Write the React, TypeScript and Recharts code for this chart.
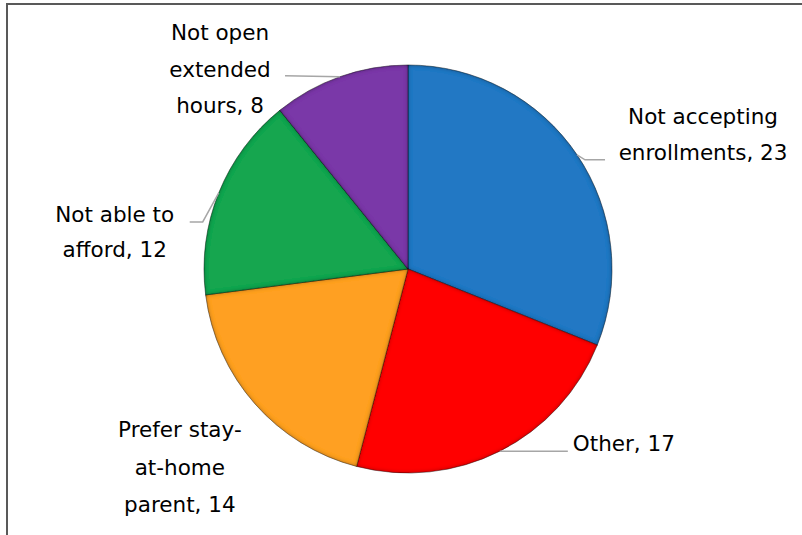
import React from "react";
import { PieChart, Pie, Cell } from "recharts";

const categories = [
  "Not accepting enrollments",
  "Other",
  "Prefer stay-at-home parent",
  "Not able to afford",
  "Not open extended hours",
];
const values = [23, 17, 14, 12, 8];
const labelLines = [
  ["Not accepting", "enrollments, 23"],
  ["Other, 17"],
  ["Prefer stay-", "at-home", "parent, 14"],
  ["Not able to", "afford, 12"],
  ["Not open", "extended", "hours, 8"],
];
const colors = ["#2178C4", "#FF0000", "#FFA024", "#14A650", "#7A38A8"];

const data = categories.map((name, i) => ({ name, value: values[i] }));

// label layout relative to slice edge point (style only)
const labelLayout = [
  { leader: [[8, 5], [28, 5]], dx: 126, anchor: "middle", dys: [-38, -2] },
  { leader: [[68, 0]], dx: 73, anchor: "start", dys: [-8] },
  { leader: [], dx: -75, anchor: "middle", dys: [26, 64, 101] },
  { leader: [[-16, 29], [-29, 29]], dx: -104, anchor: "middle", dys: [22, 57] },
  { leader: [[-55, -1]], dx: -120, anchor: "middle", dys: [-44, -7, 29] },
];

const RAD = Math.PI / 180;
const FONT = "'DejaVu Sans', sans-serif";

const renderLabel = (props: any) => {
  const { cx, cy, midAngle, outerRadius, index } = props;
  const ex = cx + outerRadius * Math.cos(-midAngle * RAD);
  const ey = cy + outerRadius * Math.sin(-midAngle * RAD);
  const L = labelLayout[index];
  const pts = [[ex, ey], ...L.leader.map(([x, y]) => [ex + x, ey + y])];
  const d = pts.length > 1 ? "M" + pts.map((p) => p.join(",")).join("L") : "";
  return (
    <g key={`lbl-${index}`}>
      {d && <path d={d} stroke="#A6A6A6" strokeWidth={1.5} fill="none" />}
      {labelLines[index].map((t, j) => (
        <text
          key={j}
          x={ex + L.dx}
          y={ey + L.dys[j]}
          textAnchor={L.anchor as any}
          dominantBaseline="central"
          fill="#000"
          fontSize={21.5}
          fontFamily={FONT}
        >
          {t}
        </text>
      ))}
    </g>
  );
};

export default function App() {
  return (
    <div
      style={{
        position: "fixed",
        left: 0,
        top: 0,
        width: 802,
        height: 535,
        overflow: "hidden",
        background: "#fff",
      }}
    >
      <svg width={0} height={0} style={{ position: "absolute" }}>
        <defs>
          <filter id="bevel" x="-10%" y="-10%" width="120%" height="120%">
            <feFlood floodColor="#000" floodOpacity="0.75" result="flood" />
            <feComposite in="flood" in2="SourceAlpha" operator="out" result="outside" />
            <feGaussianBlur in="outside" stdDeviation="2.2" result="blur" />
            <feComposite in="blur" in2="SourceAlpha" operator="in" result="inner" />
            <feMerge>
              <feMergeNode in="SourceGraphic" />
              <feMergeNode in="inner" />
            </feMerge>
          </filter>
        </defs>
      </svg>
      <div
        style={{
          position: "absolute",
          left: 6,
          top: 3,
          width: 1000,
          height: 1000,
          border: "2px solid #595959",
        }}
      />
      <div style={{ position: "absolute", left: 0, top: 0 }}>
        <PieChart width={802} height={535} margin={{ top: 0, right: 0, bottom: 0, left: 0 }}>
          <Pie
            data={data}
            dataKey="value"
            nameKey="name"
            cx={408}
            cy={269}
            outerRadius={204}
            startAngle={90}
            endAngle={-270}
            isAnimationActive={false}
            label={renderLabel}
            labelLine={false}
            stroke="rgba(0,0,0,0.35)"
            strokeWidth={1}
          >
            {data.map((d, i) => (
              <Cell key={d.name} fill={colors[i]} style={{ filter: "url(#bevel)" }} />
            ))}
          </Pie>
        </PieChart>
      </div>
    </div>
  );
}
